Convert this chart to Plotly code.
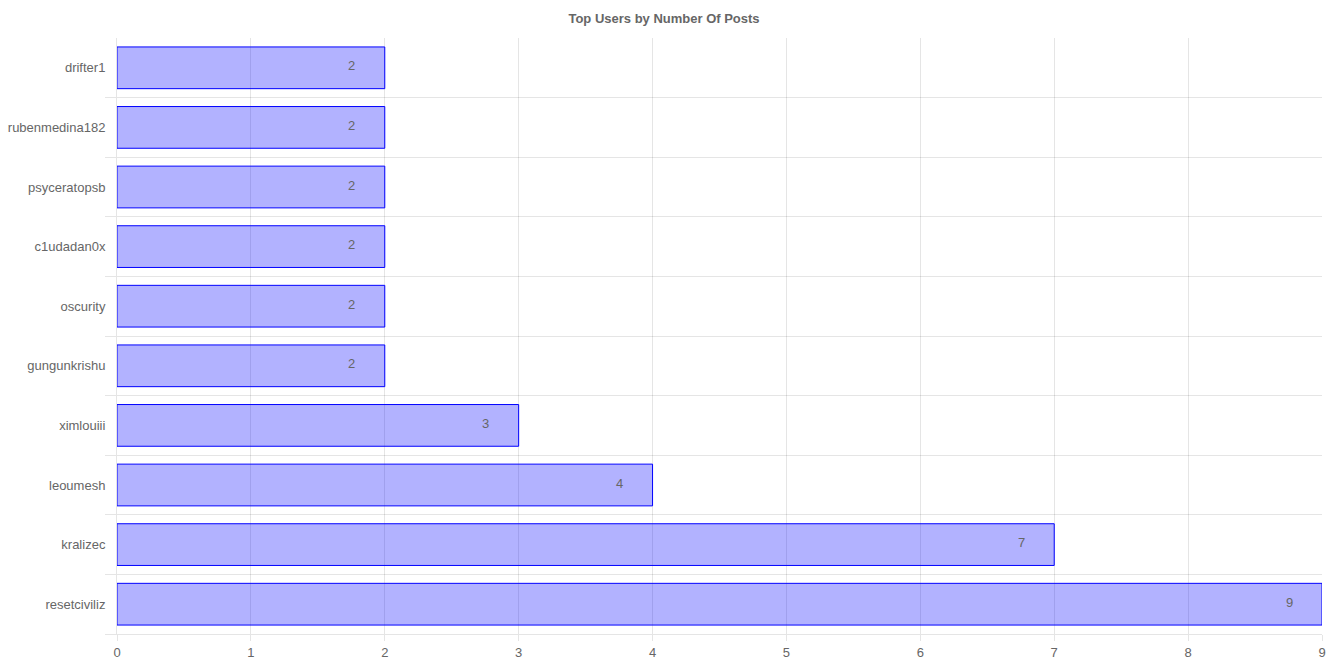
import plotly.graph_objects as go

users = ["resetciviliz", "kralizec", "leoumesh", "ximlouiii", "gungunkrishu",
         "oscurity", "c1udadan0x", "psyceratopsb", "rubenmedina182", "drifter1"]
posts = [9, 7, 4, 3, 2, 2, 2, 2, 2, 2]
x_ticks = list(range(0, 10))

positions = list(range(len(users)))
grid_col = "rgba(0,0,0,0.1)"
font_col = "#666666"
FONT = "Liberation Sans, Arial, Helvetica, sans-serif"
FS = 13

fig = go.Figure()
fig.add_trace(go.Bar(
    x=posts, y=positions, orientation="h",
    width=0.7,
    marker=dict(color="rgba(0,0,255,0.3)", line=dict(color="rgba(0,0,255,1)", width=1)),
    hoverinfo="x+y",
))

annotations = [
    dict(x=v, y=p, text=str(v), showarrow=False, xshift=-33, yshift=2, xanchor="center",
         font=dict(family=FONT, size=FS, color=font_col))
    for v, p in zip(posts, positions)
]

fig.update_layout(
    width=1328, height=664,
    margin=dict(l=117, r=6, t=38, b=30, autoexpand=False),
    paper_bgcolor="white", plot_bgcolor="white",
    font=dict(family=FONT, size=FS, color=font_col),
    showlegend=False,
    title=dict(text="<b>Top Users by Number Of Posts</b>", x=0.5, xanchor="center",
               y=0.972, yanchor="middle", font=dict(family=FONT, size=FS, color=font_col)),
    annotations=annotations,
    xaxis=dict(range=[0, 9], tickvals=x_ticks, showgrid=True, gridcolor=grid_col,
               gridwidth=1, zeroline=False, showline=True, linecolor=grid_col,
               ticks="outside", ticklen=6, tickcolor=grid_col, automargin=False,
               tickfont=dict(size=FS, color=font_col), fixedrange=True),
    yaxis=dict(range=[-0.5, 9.5], tickvals=positions, ticktext=users,
               showgrid=False, zeroline=False, showline=True, linecolor=grid_col,
               ticks="", ticklabelstandoff=8, automargin=False,
               minor=dict(tickvals=[p + 0.5 for p in positions[:-1]] + [-0.5],
                          showgrid=True, gridcolor=grid_col, ticks="outside",
                          ticklen=11, tickcolor=grid_col),
               tickfont=dict(size=FS, color=font_col), fixedrange=True),
)

fig.write_html("out.html")
